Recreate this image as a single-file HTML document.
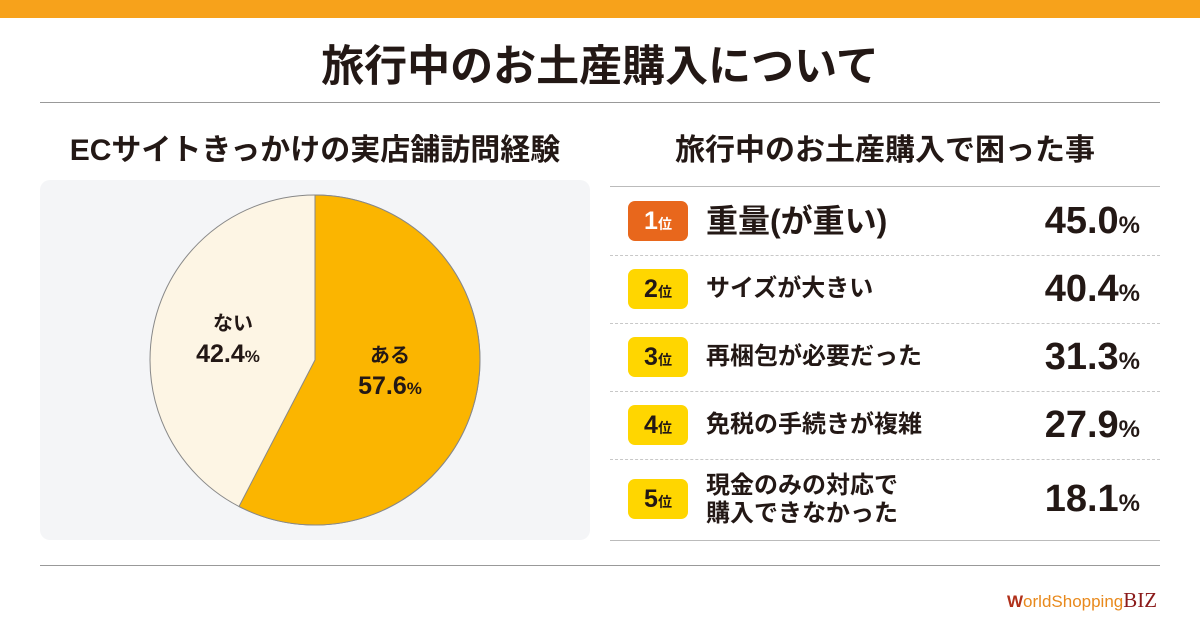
<!DOCTYPE html>
<html><head><meta charset="utf-8"><style>
body{margin:0;width:1200px;height:630px;background:#fff;position:relative;overflow:hidden;font-family:"Liberation Sans","Noto Sans CJK JP",sans-serif;color:#231815}
.a{position:absolute}
.row{position:absolute;left:610px;width:550px;height:68px;border-bottom:1px dashed #c8c8c8}
.badge{position:absolute;left:18px;top:14px;width:60px;height:40px;border-radius:7px;background:#ffd600;font-weight:bold;font-size:25px;text-align:center;line-height:40px;color:#231815}
.badge small{font-size:14px}
.lab{position:absolute;left:96px;top:0;height:68px;display:flex;align-items:center;font-weight:bold;font-size:24px;line-height:28px}
.pct{position:absolute;right:20px;top:0;line-height:68px;font-weight:bold;font-size:38px}
.pct small{font-size:24px}
</style></head><body>
<div class="a" style="left:0;top:0;width:1200px;height:18px;background:#f7a21b"></div>
<div class="a" style="left:0;top:32px;width:1200px;text-align:center;font-size:43px;font-weight:bold">旅行中のお土産購入について</div>
<div class="a" style="left:40px;top:102px;width:1120px;height:1px;background:#999"></div>
<div class="a" style="left:40px;top:125px;width:550px;text-align:center;font-size:30px;font-weight:bold;white-space:nowrap">ECサイトきっかけの実店舗訪問経験</div>
<div class="a" style="left:610px;top:125px;width:550px;text-align:center;font-size:30px;font-weight:bold;white-space:nowrap">旅行中のお土産購入で困った事</div>
<div class="a" style="left:40px;top:180px;width:550px;height:360px;background:#f4f5f7;border-radius:10px"></div>
<svg class="a" style="left:0;top:0" width="600" height="560">
<circle cx="315" cy="360" r="165" fill="#fdf5e4" stroke="#888" stroke-width="1"/>
<path d="M315 360 L315 195 A165 165 0 1 1 239 506.5 Z" fill="#fbb500" stroke="#888" stroke-width="1"/>
<g font-family="Liberation Sans,Noto Sans CJK JP,sans-serif" font-weight="bold" fill="#231815" text-anchor="middle">
<text x="233" y="330" font-size="20">ない</text>
<text x="228" y="362" font-size="25">42.4<tspan font-size="17">%</tspan></text>
<text x="390" y="362" font-size="20">ある</text>
<text x="390" y="394" font-size="25">57.6<tspan font-size="17">%</tspan></text>
</g></svg>
<div class="a" style="left:610px;top:186px;width:550px;height:1px;background:#bbb"></div>
<div class="row" style="top:187px"><div class="badge" style="background:#e8671c;color:#fff">1<small>位</small></div><div class="lab" style="font-size:32px">重量(が重い)</div><div class="pct">45.0<small>%</small></div></div>
<div class="row" style="top:255px"><div class="badge">2<small>位</small></div><div class="lab">サイズが大きい</div><div class="pct">40.4<small>%</small></div></div>
<div class="row" style="top:323px"><div class="badge">3<small>位</small></div><div class="lab">再梱包が必要だった</div><div class="pct">31.3<small>%</small></div></div>
<div class="row" style="top:391px"><div class="badge">4<small>位</small></div><div class="lab">免税の手続きが複雑</div><div class="pct">27.9<small>%</small></div></div>
<div class="row" style="top:459px;height:81px;border-bottom:1px solid #bbb"><div class="badge" style="top:20px">5<small>位</small></div><div class="lab" style="height:81px">現金のみの対応で<br>購入できなかった</div><div class="pct" style="line-height:81px">18.1<small>%</small></div></div>
<div class="a" style="left:40px;top:565px;width:1120px;height:1px;background:#999"></div>
<div class="a" style="left:1007px;top:588px;font-size:17px;white-space:nowrap"><span style="color:#b0301a;font-weight:bold">W</span><span style="color:#e8891c">orldShopping</span><span style="color:#8b1a1a;font-family:'Liberation Serif',serif;font-size:21px">BIZ</span></div>
</body></html>
